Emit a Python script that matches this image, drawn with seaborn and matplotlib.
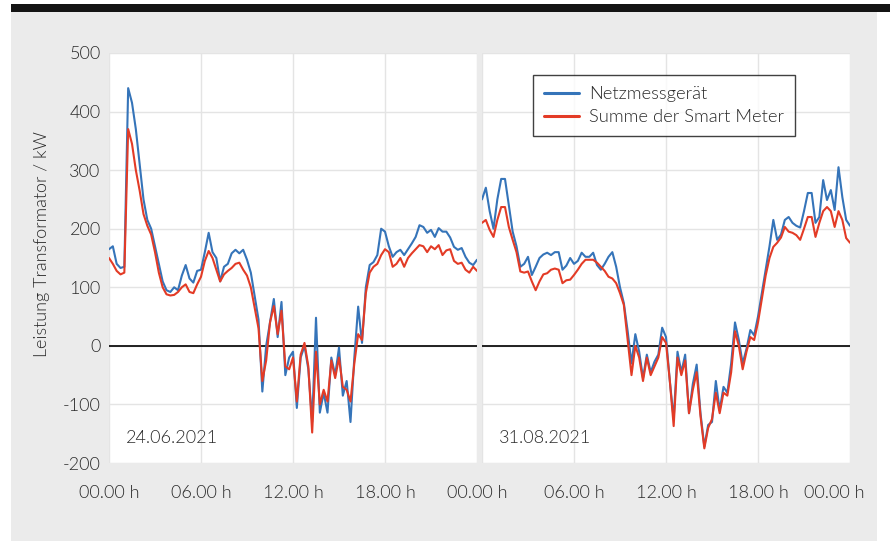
import matplotlib
matplotlib.use("Agg")
import matplotlib.pyplot as plt
import matplotlib.transforms as mtransforms
from matplotlib.patches import Rectangle
import numpy as np
import pandas as pd
import seaborn as sns

# 15-minute values, 00:00 .. 24:00 (97 points per day)
JUNE_NETZ = [
    165, 170, 140, 133, 135, 440, 415, 370, 310, 250, 215, 200, 170, 140, 110, 95,
    92, 100, 95, 120, 138, 115, 108, 128, 130, 160, 193, 160, 150, 110, 135, 140,
    158, 164, 158, 164, 147, 125, 85, 45, -78, 0, 40, 80, 15, 75, -50, -20,
    -10, -106, -20, 0, -40, -130, 48, -114, -80, -114, -20, -50, -3, -85, -60, -130,
    -20, 67, 5, 100, 138, 143, 155, 200, 195, 170, 152, 160, 164, 155, 165, 175,
    186, 206, 203, 193, 198, 186, 201, 195, 195, 185, 169, 164, 167, 152, 142, 138,
    147,
]
JUNE_SMART = [
    150, 140, 128, 122, 125, 370, 345, 300, 265, 225, 205, 190, 160, 125, 100, 88,
    86, 87, 92, 100, 105, 92, 90, 105, 118, 145, 162, 150, 130, 110, 122, 128,
    133, 140, 142, 130, 120, 100, 65, 30, -60, -25, 40, 68, 20, 60, -35, -40,
    -20, -95, -15, 5, -35, -148, -10, -100, -75, -95, -25, -55, -20, -70, -75, -95,
    -30, 20, 10, 90, 125, 135, 140, 155, 165, 160, 135, 140, 150, 135, 150, 158,
    165, 172, 170, 160, 170, 165, 172, 155, 163, 165, 145, 140, 142, 130, 125, 135,
    128,
]
AUG_NETZ = [
    250, 270, 230, 200, 250, 285, 285, 240, 195, 170, 135, 140, 152, 121, 135, 150,
    156, 159, 155, 160, 160, 130, 137, 150, 140, 145, 159, 152, 152, 159, 138, 130,
    140, 152, 160, 135, 100, 73, 25, -30, 20, -10, -55, -15, -45, -27, -15, 31,
    15, -60, -125, -10, -45, -15, -115, -65, -32, -115, -172, -135, -130, -60, -110, -70,
    -80, -30, 40, 10, -30, -5, 27, 18, 50, 90, 130, 170, 215, 181, 190, 215,
    220, 210, 205, 202, 230, 261, 261, 210, 220, 283, 249, 266, 232, 305, 254, 215,
    205,
]
AUG_SMART = [
    210, 215, 198, 186, 215, 237, 237, 203, 181, 160, 127, 125, 127, 110, 95, 110,
    122, 124, 130, 132, 130, 107, 112, 113, 121, 130, 140, 147, 147, 147, 142, 135,
    128, 118, 115, 107, 90, 70, 10, -50, 0, -20, -60, -20, -50, -35, -20, 15,
    5, -60, -137, -20, -50, -25, -115, -75, -45, -120, -175, -140, -125, -80, -115, -80,
    -85, -45, 25, 0, -40, -10, 15, 10, 40, 80, 120, 150, 169, 176, 185, 203,
    195, 193, 189, 181, 200, 220, 220, 186, 210, 230, 237, 230, 203, 230, 215, 184,
    176,
]

SERIES_NAMES = ["Netzmessgerät", "Summe der Smart Meter"]
SERIES_COLORS = ["#3574b9", "#e33b26"]
DAY_LABELS = ["24.06.2021", "31.08.2021"]
Y_TICKS = [-200, -100, 0, 100, 200, 300, 400, 500]
X_TICKS = [0, 6, 12, 18, 24]
X_TICK_LABELS = ["00.00 h", "06.00 h", "12.00 h", "18.00 h", "00.00 h"]

TEXT_COLOR = "#2b2b2b"
BG_GRAY = "#ebebeb"
FS = 13

sns.set_theme(style="white")
plt.rcParams["font.family"] = ["Lato", "DejaVu Sans"]
plt.rcParams["font.weight"] = 300
plt.rcParams["axes.unicode_minus"] = False


def build_frame(netz: list, smart: list) -> pd.DataFrame:
    hours = np.arange(len(netz)) * 0.25
    df = pd.DataFrame(
        {
            "hour": np.concatenate([hours, hours]),
            "value": np.concatenate([netz, smart]),
            "series": [SERIES_NAMES[0]] * len(netz) + [SERIES_NAMES[1]] * len(smart),
        }
    )
    return df


def style_axis(ax) -> None:
    ax.set_facecolor("white")
    ax.set_xlim(0, 24)
    ax.set_ylim(-200, 500)
    ax.set_xticks(X_TICKS)
    ax.set_yticks(Y_TICKS)
    ax.grid(True, color="#e4e4e4", linewidth=1.0)
    ax.set_axisbelow(True)
    for spine in ax.spines.values():
        spine.set_visible(False)
    ax.tick_params(length=0, labelsize=FS, labelcolor=TEXT_COLOR)
    ax.axhline(0, color="#111111", linewidth=1.3, zorder=3)
    ax.set_xlabel("")
    ax.set_ylabel("")


fig = plt.figure(figsize=(8.9, 5.41), dpi=100)
fig.patch.set_facecolor("white")
fig.add_artist(Rectangle((11 / 890, 0), 866 / 890, (541 - 12) / 541, transform=fig.transFigure,
                         facecolor=BG_GRAY, edgecolor="none", zorder=0))
fig.add_artist(Rectangle((11 / 890, (541 - 12) / 541), 879 / 890, 8 / 541, transform=fig.transFigure,
                         facecolor="#141414", edgecolor="none", zorder=0))

bottom = (541 - 463) / 541
height = 410 / 541
ax1 = fig.add_axes([109 / 890, bottom, 368 / 890, height])
ax2 = fig.add_axes([482 / 890, bottom, 368 / 890, height])

palette = dict(zip(SERIES_NAMES, SERIES_COLORS))
for ax, netz, smart, day in [(ax1, JUNE_NETZ, JUNE_SMART, DAY_LABELS[0]),
                             (ax2, AUG_NETZ, AUG_SMART, DAY_LABELS[1])]:
    df = build_frame(netz, smart)
    sns.lineplot(data=df, x="hour", y="value", hue="series", palette=palette,
                 linewidth=1.5, ax=ax, legend=(ax is ax2), zorder=4)
    style_axis(ax)
    ax.text(0.045, 0.062, day, transform=ax.transAxes, fontsize=FS,
            color=TEXT_COLOR, ha="left", va="center")

ax1.set_xticklabels(X_TICK_LABELS)
ax1.tick_params(axis="x", pad=16)
ax1.tick_params(axis="y", pad=6)
ax2.set_xticklabels([""] + X_TICK_LABELS[1:])
ax2.tick_params(axis="x", pad=16)
ax2.set_yticklabels([])

# keep last label inside the gray panel
last = ax2.get_xticklabels()[-1]
last.set_transform(last.get_transform() + mtransforms.ScaledTranslation(-16 / 100, 0, fig.dpi_scale_trans))

handles, labels = ax2.get_legend_handles_labels()
leg = ax2.legend(handles, labels, loc="upper left", bbox_to_anchor=(0.139, 0.946),
                 borderaxespad=0, frameon=True, fancybox=False, fontsize=13.2,
                 handlelength=1.9, borderpad=0.6, labelspacing=0.4, handletextpad=0.55)
leg.get_frame().set_edgecolor("#111111")
leg.get_frame().set_linewidth(1.0)
for line in leg.get_lines():
    line.set_linewidth(2.2)
for txt in leg.get_texts():
    txt.set_color(TEXT_COLOR)

fig.text(42 / 890, 1 - 244 / 541, "Leistung Transformator / kW", rotation=90,
         ha="center", va="center", fontsize=FS, color=TEXT_COLOR)

fig.savefig("out.png", dpi=100)
